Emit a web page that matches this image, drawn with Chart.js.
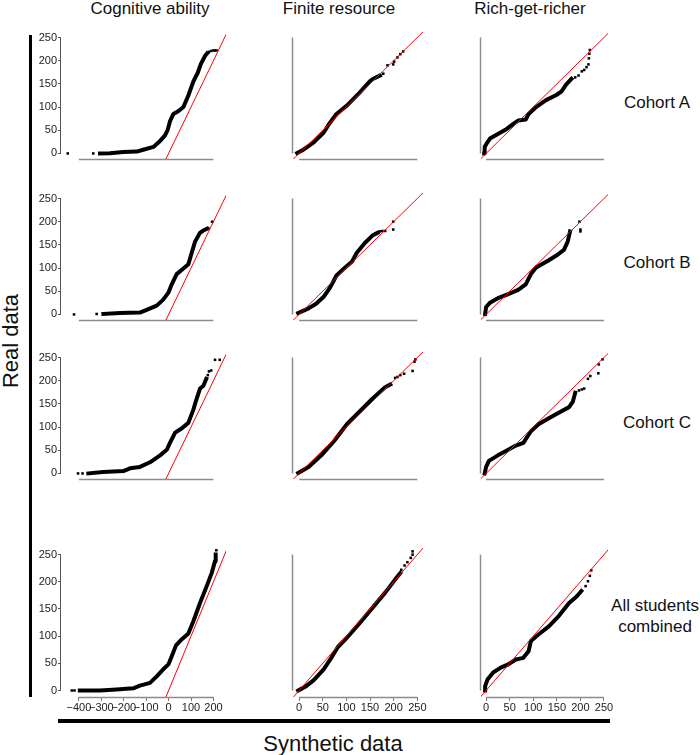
<!DOCTYPE html>
<html>
<head>
<meta charset="utf-8">
<script src="https://cdn.jsdelivr.net/npm/chart.js@4.4.1/dist/chart.umd.min.js"></script>
<style>
  body { margin: 0; background: #fff; }
  #page { position: relative; width: 700px; height: 755px; overflow: hidden;
          font-family: "Liberation Sans", Arial, sans-serif; color: #111; }
  .lbl { position: absolute; transform: translate(-50%, -50%); white-space: pre; line-height: 1; text-align: center; }
  .rule { position: absolute; background: #000; }
  canvas { position: absolute; }
</style>
</head>
<body>
<div id="page"></div>
<script>
// titres
const columnTitles = ['Cognitive ability', 'Finite resource', 'Rich-get-richer'];
const rowTitles = ['Cohort A', 'Cohort B', 'Cohort C', 'All students\ncombined'];

// graduations
const cognitiveTicks = [-400, -300, -200, -100, 0, 100, 200];
const syntheticTicks = [0, 50, 100, 150, 200, 250];
const realTicks = [0, 50, 100, 150, 200, 250];
const refLine = [-60, 320]; // droite y = x

// Cognitive ability : [synthétique, réel]
const cogA = [[-306,0],[-262,0.5],[-202,3],[-142,4],[-113,8],[-68,14],[-38,27],[-16,39],[-4,51],[6,69],[21,85],[43,91],[66,100],[88,125],[110,155],[130,174],[143,192],[162,210],[172,216]];
const cogA_tail = [[-450,0],[-336,0],[180,219],[190,221],[200,222],[208,222],[214,222]];
const cogB = [[-291,1],[-217,3],[-128,4],[-98,10],[-53,19],[-24,32],[-1,47],[14,65],[36,87],[66,99],[88,108],[103,133],[118,157],[140,176],[155,181],[172,185]];
const cogB_tail = [[-422,0],[-321,1],[178,185],[194,200]];
const cogC = [[-358,0],[-292,3],[-202,5],[-172,11],[-128,14],[-83,24],[-38,39],[-8,51],[6,66],[29,88],[58,97],[88,109],[110,137],[125,161],[140,183],[155,189],[168,204]];
const cogC_tail = [[-404,0],[-384,0],[175,212],[180,220],[190,222],[207,245],[228,245]];
const cogAll = [[-396,0],[-306,0],[-232,2],[-158,4],[-128,9],[-83,14],[-53,26],[-24,39],[-1,48],[14,63],[33,83],[58,94],[88,105],[110,127],[140,161],[170,192],[192,216],[207,238],[210,250]];
const cogAll_tail = [[-432,0],[-420,0],[213,258]];

// Finite resource
const finA = [[-4,1],[9,8],[31,24],[52,45],[63,63],[79,85],[101,103],[128,131],[149,155],[155,160],[171,168]];
const finA_tail = [[178,172],[187,190],[199,192],[201,198],[208,207],[214,214],[220,220]];
const finB = [[-2,3],[20,13],[36,23],[52,38],[66,59],[79,84],[95,99],[112,114],[122,133],[139,154],[155,170],[166,176]];
const finB_tail = [[171,179],[176,180],[182,180],[199,200],[199,183]];
const finC = [[-2,1],[20,14],[47,39],[74,70],[101,106],[128,134],[155,161],[182,186],[193,192]];
const finC_tail = [[203,206],[208,208],[214,212],[222,215],[240,221],[244,241],[246,246]];
const finAll = [[-2,0],[15,8],[31,19],[52,39],[68,60],[82,80],[101,97],[128,124],[155,152],[182,180],[203,204],[214,216]];
const finAll_tail = [[216,222],[223,230],[229,236],[236,244],[240,250],[240,256]];

// Rich-get-richer
const richA = [[-4,0],[-3,14],[1,21],[9,33],[25,42],[41,51],[57,63],[68,71],[84,73],[90,85],[106,100],[127,115],[149,126],[160,134],[170,149],[181,161]];
const richA_tail = [[189,164],[196,168],[203,177],[208,180],[213,186],[217,192],[218,205],[219,215],[220,223]];
const richB = [[-2,1],[0,16],[9,26],[25,35],[47,44],[68,53],[84,65],[95,87],[106,101],[133,117],[149,127],[165,139],[173,157],[178,179]];
const richB_tail = [[198,200],[200,183],[200,179]];
const richC = [[-3,0],[0,14],[6,27],[25,39],[47,51],[63,60],[79,66],[95,91],[111,106],[133,119],[154,131],[176,143],[184,155],[189,174]];
const richC_tail = [[197,179],[203,181],[208,183],[216,204],[221,210],[238,216],[239,235],[247,246]];
const richAll = [[-2,0],[-2,8],[3,20],[15,33],[31,42],[47,48],[63,57],[79,60],[90,72],[95,91],[111,103],[133,118],[154,137],[176,161],[192,173],[202,183]];
const richAll_tail = [[211,192],[216,201],[220,211],[223,221]];

const panels = [
  [[cogA, cogA_tail], [finA, finA_tail], [richA, richA_tail]],
  [[cogB, cogB_tail], [finB, finB_tail], [richB, richB_tail]],
  [[cogC, cogC_tail], [finC, finC_tail], [richC, richC_tail]],
  [[cogAll, cogAll_tail], [finAll, finAll_tail], [richAll, richAll_tail]]
];

// mise en page (pixels)
const P = 14, YW = 40, XH = 22;
const colLeft = [61, 253, 441], colWidth = [165, 170, 167];
const rowTop = [31, 192, 351, 547], plotH = 150;
const xRange = [[-480, 256], [-12.9, 262], [-10.8, 258.5]];
const yRange = [-12, 264];
const FONT = '"Liberation Sans", Arial, sans-serif';

const page = document.getElementById('page');

function addLabel(text, cx, cy, size, extra) {
  const d = document.createElement('div');
  d.className = 'lbl';
  d.textContent = text;
  d.style.left = cx + 'px';
  d.style.top = cy + 'px';
  d.style.fontSize = size + 'px';
  if (extra) Object.assign(d.style, extra);
  page.appendChild(d);
}

function addRule(l, t, w, h) {
  const d = document.createElement('div');
  d.className = 'rule';
  Object.assign(d.style, { left: l + 'px', top: t + 'px', width: w + 'px', height: h + 'px' });
  page.appendChild(d);
}

addRule(29, 35, 3, 662);
addRule(58, 719, 552, 4);
addLabel('Real data', 11, 341, 22, { transform: 'translate(-50%,-50%) rotate(-90deg)' });
addLabel('Synthetic data', 333, 744, 22);
[150, 339, 530].forEach((cx, i) => addLabel(columnTitles[i], cx, 8, 17));
[102, 262, 422].forEach((cy, i) => addLabel(rowTitles[i], 657, cy, 17));
addLabel(rowTitles[3], 655, 616, 17, { lineHeight: '21px' });

const fmt = v => (v < 0 ? '\u2212' + Math.abs(v) : String(v));
const toXY = arr => arr.map(p => ({ x: p[0], y: p[1] }));

// axes décalés façon R
const offsetAxes = {
  id: 'offsetAxes',
  beforeDatasetsDraw(chart, args, opts) {
    const { ctx, chartArea, scales: { x, y } } = chart;
    ctx.save();
    ctx.lineWidth = 1.5;
    ctx.strokeStyle = '#8c8c8c';
    ctx.beginPath();
    ctx.moveTo(x.getPixelForValue(opts.span[0]), chartArea.bottom + 0.5);
    ctx.lineTo(x.getPixelForValue(opts.span[1]), chartArea.bottom + 0.5);
    ctx.stroke();
    ctx.strokeStyle = opts.yColor;
    ctx.lineWidth = opts.yWidth;
    ctx.beginPath();
    ctx.moveTo(chartArea.left - 0.5, y.getPixelForValue(realTicks[0]));
    ctx.lineTo(chartArea.left - 0.5, y.getPixelForValue(realTicks[realTicks.length - 1]));
    ctx.stroke();
    ctx.restore();
  }
};

function makePanel(r, c) {
  const [dense, tail] = panels[r][c];
  const showY = c === 0, showX = r === 3;
  const w = colWidth[c] + 2 * P + (showY ? YW : 0);
  const h = plotH + 2 * P + (showX ? XH : 0);
  const cv = document.createElement('canvas');
  cv.width = w; cv.height = h;
  cv.style.left = (colLeft[c] - P - (showY ? YW : 0)) + 'px';
  cv.style.top = (rowTop[r] - P) + 'px';
  cv.style.width = w + 'px'; cv.style.height = h + 'px';
  page.appendChild(cv);

  const xTicks = c === 0 ? cognitiveTicks : syntheticTicks;
  new Chart(cv, {
    type: 'scatter',
    data: {
      datasets: [
        { data: refLine.map(v => ({ x: v, y: v })), showLine: true, borderColor: '#ff0000',
          borderWidth: 1, pointRadius: 0, order: 0 },
        { data: toXY(dense), showLine: true, borderColor: '#000', borderWidth: 4,
          borderJoinStyle: 'round', borderCapStyle: 'square', pointRadius: 0, order: 1 },
        { data: toXY(tail), pointStyle: 'rect', pointRadius: 1.8, backgroundColor: '#000',
          borderWidth: 0, order: 1 }
      ]
    },
    options: {
      responsive: false,
      animation: false,
      events: [],
      layout: { padding: P },
      plugins: {
        legend: { display: false },
        tooltip: { enabled: false },
        offsetAxes: { span: [xTicks[0], xTicks[xTicks.length - 1]],
                      yColor: showY ? '#555' : '#8c8c8c', yWidth: showY ? 1 : 1.5 }
      },
      scales: {
        x: {
          type: 'linear', min: xRange[c][0], max: xRange[c][1], display: showX,
          afterFit: s => { s.height = XH; },
          afterBuildTicks: s => { s.ticks = xTicks.map(v => ({ value: v })); },
          grid: { drawOnChartArea: false, drawTicks: true, tickLength: 4, color: '#777' },
          border: { display: false },
          ticks: { padding: 0, maxRotation: 0, autoSkip: false, color: '#222',
                   font: { size: 11, family: FONT }, callback: v => fmt(v) }
        },
        y: {
          type: 'linear', min: yRange[0], max: yRange[1], display: showY,
          afterFit: s => { s.width = YW; },
          afterBuildTicks: s => { s.ticks = realTicks.map(v => ({ value: v })); },
          grid: { drawOnChartArea: false, drawTicks: true, tickLength: 3, color: '#555' },
          border: { display: false },
          ticks: { padding: 1, color: '#222', font: { size: 11, family: FONT }, callback: v => fmt(v) }
        }
      }
    },
    plugins: [offsetAxes]
  });
}

for (let r = 0; r < 4; r++) {
  for (let c = 0; c < 3; c++) makePanel(r, c);
}
</script>
</body>
</html>
